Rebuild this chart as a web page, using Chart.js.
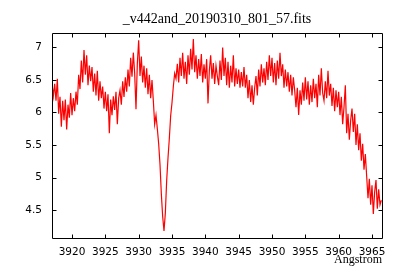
<!DOCTYPE html>
<html>
<head>
<meta charset="utf-8">
<script src="https://cdn.jsdelivr.net/npm/chart.js@4.4.1/dist/chart.umd.min.js"></script>
<style>
  html, body { margin: 0; padding: 0; background: #fff; }
  #spec { display: block; }
</style>
</head>
<body>
<canvas id="spec" width="400" height="280"></canvas>
<script>
/* ------------------------------
 spectrum data
--------------------------------*/
var chartTitle = "_v442and_20190310_801_57.fits";
var xAxisLabel = "Angstrom";

// wavelength grid of the spectrum: start + step (Angstrom)
var lambdaStart = 3917.0;
var lambdaStep = 0.2;

// flux, one value per grid point, 5 per Angstrom
var flux = [
  6.45, 6.25, 6.44, 6.18, 6.52,   // 3917
  5.98, 6.24, 5.78, 6.18, 5.88,   // 3918
  6.20, 5.74, 6.12, 5.92, 6.30,   // 3919
  5.96, 6.22, 6.02, 6.32, 6.12,   // 3920
  6.58, 6.36, 6.80, 6.46, 6.96,   // 3921
  6.58, 6.88, 6.42, 6.72, 6.48,   // 3922
  6.70, 6.32, 6.60, 6.26, 6.64,   // 3923
  6.18, 6.48, 6.22, 6.40, 6.06,   // 3924
  6.32, 6.02, 6.28, 5.68, 6.20,   // 3925
  5.96, 6.25, 6.04, 6.32, 5.82,   // 3926
  6.22, 6.34, 6.12, 6.48, 6.24,   // 3927
  6.54, 6.32, 6.66, 6.40, 6.84,   // 3928
  6.55, 6.92, 6.60, 6.05, 6.75,   // 3929
  7.11, 6.56, 6.86, 6.46, 6.72,   // 3930
  6.38, 6.68, 6.28, 6.58, 6.22,   // 3931
  6.50, 6.18, 5.82, 5.96, 5.75,   // 3932
  5.52, 5.20, 4.75, 4.40, 4.18,   // 3933
  4.45, 4.95, 5.30, 5.60, 5.95,   // 3934
  6.15, 6.40, 6.60, 6.52, 6.75,   // 3935
  6.46, 6.84, 6.56, 6.92, 6.52,   // 3936
  6.78, 6.44, 6.88, 6.58, 6.98,   // 3937
  6.66, 7.13, 6.62, 6.88, 6.52,   // 3938
  6.82, 6.56, 6.90, 6.46, 6.74,   // 3939
  6.52, 6.82, 6.14, 6.64, 6.88,   // 3940
  6.52, 6.76, 6.44, 6.72, 6.56,   // 3941
  6.42, 6.80, 6.50, 7.00, 6.56,   // 3942
  6.84, 6.42, 6.78, 6.38, 6.72,   // 3943
  6.46, 6.88, 6.40, 6.68, 6.44,   // 3944
  6.66, 6.38, 6.62, 6.40, 6.70,   // 3945
  6.38, 6.58, 6.22, 6.50, 6.16,   // 3946
  6.42, 6.12, 6.38, 6.56, 6.26,   // 3947
  6.66, 6.40, 6.74, 6.46, 6.68,   // 3948
  6.42, 6.78, 6.50, 6.88, 6.56,   // 3949
  6.84, 6.46, 6.76, 6.42, 6.80,   // 3950
  6.52, 6.92, 6.56, 6.74, 6.38,   // 3951
  6.66, 6.40, 6.62, 6.32, 6.58,   // 3952
  6.26, 6.54, 6.34, 6.08, 6.38,   // 3953
  5.96, 6.34, 6.12, 6.46, 6.18,   // 3954
  6.54, 6.20, 6.48, 6.12, 6.42,   // 3955
  6.16, 6.52, 6.22, 6.44, 6.08,   // 3956
  6.58, 6.26, 6.68, 6.30, 6.18,   // 3957
  6.48, 6.22, 6.64, 6.26, 6.44,   // 3958
  6.10, 6.38, 6.02, 6.34, 6.08,   // 3959
  6.32, 5.96, 6.24, 5.82, 6.08,   // 3960
  6.42, 5.68, 5.98, 5.58, 5.88,   // 3961
  6.06, 5.70, 5.98, 5.50, 5.82,   // 3962
  5.42, 5.68, 5.26, 5.52, 5.12,   // 3963
  5.36, 5.02, 4.68, 4.98, 4.58,   // 3964
  4.88, 4.44, 4.78, 4.96, 4.52,   // 3965
  4.82, 4.58, 4.65                // 3966
];

var xTicks = [3920, 3925, 3930, 3935, 3940, 3945, 3950, 3955, 3960, 3965];
var yTicks = [4.5, 5, 5.5, 6, 6.5, 7];
var xRange = [3917.0, 3966.5];
var yRange = [4.07, 7.21];

/*------------------------------------
* frame with inward ticks (gnuplot look)
------------------------------------ */
var frameTicks = {
  id: "frameTicks",
  afterDatasetsDraw: function (chart) {
    var ctx = chart.ctx, a = chart.chartArea;
    var sx = chart.scales.x, sy = chart.scales.y;
    var l = Math.floor(a.left) + 0.5, r = Math.floor(a.right) + 0.5;
    var t = Math.floor(a.top) + 0.5, b = Math.floor(a.bottom) + 0.5;
    ctx.save();
    ctx.strokeStyle = "#000";
    ctx.lineWidth = 1;
    ctx.beginPath();
    sx.ticks.forEach(function (tk) {
      var px = Math.round(sx.getPixelForValue(tk.value)) + 0.5;
      ctx.moveTo(px, b); ctx.lineTo(px, b - 4);
      ctx.moveTo(px, t); ctx.lineTo(px, t + 4);
    });
    sy.ticks.forEach(function (tk) {
      var py = Math.round(sy.getPixelForValue(tk.value)) + 0.5;
      ctx.moveTo(l, py); ctx.lineTo(l + 4, py);
      ctx.moveTo(r, py); ctx.lineTo(r - 4, py);
    });
    ctx.rect(l, t, r - l, b - t);
    ctx.stroke();
    ctx.restore();
  }
};

var points = flux.map(function (v, i) {
  return { x: lambdaStart + i * lambdaStep, y: v };
});

var tickFont = { family: "'DejaVu Sans', sans-serif", size: 10.5 };
var plainLabel = function (v) { return String(v); };

var ChartS = new Chart(document.getElementById("spec"), {
  type: "line",
  data: {
    datasets: [
      {
        data: points,
        borderColor: "#ff0000",
        borderWidth: 1.2,
        pointRadius: 0,
        tension: 0,
        fill: false,
      },
    ],
  },
  options: {
    responsive: false,
    animation: false,
    layout: { padding: { left: 0, right: 18, top: 0, bottom: 0 } },
    plugins: {
      legend: { display: false },
      tooltip: { enabled: false },
      title: {
        display: true,
        fullSize: false,
        text: chartTitle,
        color: "#000",
        font: { family: "'Liberation Serif', serif", size: 14, weight: "normal" },
        padding: { top: 11, bottom: 6 },
      },
    },
    scales: {
      x: {
        type: "linear",
        min: xRange[0],
        max: xRange[1],
        grid: { display: false, drawTicks: false },
        border: { display: false },
        ticks: { color: "#000", font: tickFont, padding: 8, maxRotation: 0, callback: plainLabel },
        title: {
          display: true,
          text: xAxisLabel,
          align: "end",
          color: "#000",
          font: { family: "'Liberation Serif', serif", size: 12 },
          padding: { top: 0, bottom: 13 },
        },
        afterBuildTicks: function (s) {
          s.ticks = xTicks.map(function (v) { return { value: v }; });
        },
        afterFit: function (s) { s.height = 42; },
      },
      y: {
        type: "linear",
        min: yRange[0],
        max: yRange[1],
        grid: { display: false, drawTicks: false },
        border: { display: false },
        ticks: { color: "#000", font: tickFont, padding: 10, callback: plainLabel },
        afterBuildTicks: function (s) {
          s.ticks = yTicks.map(function (v) { return { value: v }; });
        },
        afterFit: function (s) { s.width = 52; },
      },
    },
  },
  plugins: [frameTicks],
});
</script>
</body>
</html>
